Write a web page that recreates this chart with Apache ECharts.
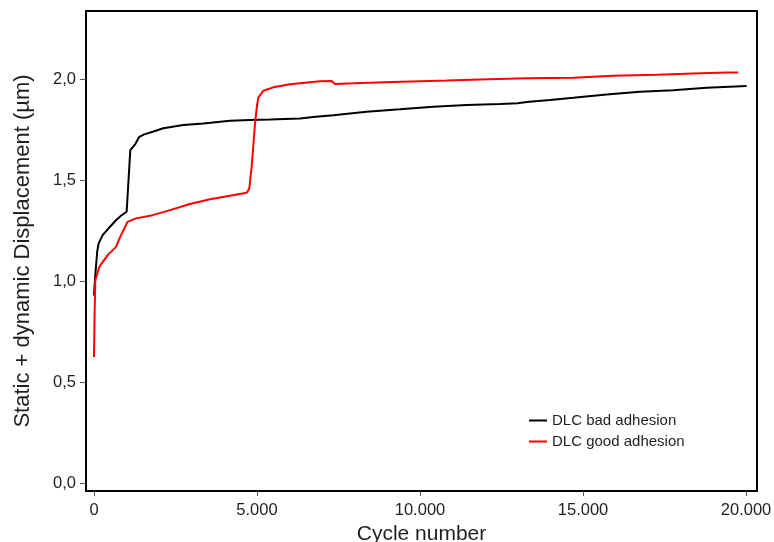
<!DOCTYPE html>
<html>
<head>
<meta charset="utf-8">
<script src="https://cdn.jsdelivr.net/npm/echarts@6/dist/echarts.min.js"></script>
<style>
html,body{margin:0;padding:0;background:#fff;}
#c{width:774px;height:542px;}
</style>
</head>
<body>
<div id="c"></div>
<script>
var seriesNames = ['DLC bad adhesion', 'DLC good adhesion'];
var xTicks = [0, 5000, 10000, 15000, 20000];
var yTicks = [0, 0.5, 1.0, 1.5, 2.0];

var badCycles = [0,40,100,144,266,470,675,828,1002,1063,1114,1267,1390,1543,1800,2126,2739,3353,4171,4785,5398,6318,6800,7340,8363,9385,10407,11430,12452,13000,13270,13985,14701,15724,16746,17768,18791,20018];
var badDisp   = [0.93,1.03,1.15,1.188,1.229,1.267,1.303,1.325,1.345,1.353,1.65,1.68,1.716,1.728,1.741,1.758,1.774,1.782,1.795,1.799,1.802,1.807,1.815,1.823,1.840,1.852,1.865,1.873,1.878,1.882,1.888,1.898,1.909,1.926,1.939,1.947,1.959,1.967];

var goodCycles = [0,20,41,163,419,675,828,1032,1288,1800,2331,2944,3558,4171,4683,4764,4836,4900,4938,5000,5040,5193,5500,6011,6625,6932,7290,7392,7953,9180,10816,11839,13270,14701,15928,17257,18381,19404,19760];
var goodDisp   = [0.626,0.85,1.006,1.072,1.13,1.171,1.229,1.295,1.312,1.328,1.353,1.383,1.407,1.424,1.439,1.46,1.567,1.70,1.78,1.87,1.91,1.944,1.961,1.976,1.986,1.991,1.992,1.978,1.981,1.988,1.995,2.0,2.006,2.009,2.018,2.023,2.03,2.035,2.034];

function zip(a, b){ return a.map(function(v,i){ return [v, b[i]]; }); }

var FONT = '"Liberation Sans", Arial, sans-serif';
var TXT = '#1f1f1f';

var chart = echarts.init(document.getElementById('c'), null, {renderer:'canvas'});
chart.setOption({
  animation:false,
  backgroundColor:'#fff',
  grid:{left:86, right:17, top:11, bottom:51, show:true, borderColor:'#000', borderWidth:2, backgroundColor:'transparent',
        containLabel:false, outerBoundsMode:'none'},
  legend:{
    left:524, top:408, orient:'vertical', itemWidth:18, itemHeight:2, itemGap:6,
    icon:'rect',
    textStyle:{fontFamily:FONT, fontSize:15, color:TXT, lineHeight:15},
    data:seriesNames
  },
  xAxis:{
    type:'value', min:-245, max:20337,
    axisLine:{show:false, onZero:false},
    splitLine:{show:false},
    axisTick:{show:true, inside:false, customValues:xTicks, length:5, lineStyle:{color:'#555', width:1}},
    axisLabel:{customValues:xTicks, margin:11, fontFamily:FONT, fontSize:16.5, color:TXT,
      formatter:function(v){ return String(Math.round(v)).replace(/\B(?=(\d{3})+(?!\d))/g,'.'); }},
    name:'Cycle number', nameLocation:'middle', nameGap:33,
    nameTextStyle:{fontFamily:FONT, fontSize:21, color:TXT}
  },
  yAxis:{
    type:'value', min:-0.038, max:2.339,
    axisLine:{show:false, onZero:false},
    splitLine:{show:false},
    axisTick:{show:true, inside:false, customValues:yTicks, length:6, lineStyle:{color:'#555', width:1}},
    axisLabel:{customValues:yTicks, margin:10, fontFamily:FONT, fontSize:16.5, color:TXT,
      formatter:function(v){ return v.toFixed(1).replace('.',','); }},
    name:'Static + dynamic Displacement (µm)', nameLocation:'middle', nameGap:52,
    nameTextStyle:{fontFamily:FONT, fontSize:22, color:TXT}
  },
  series:[
    {name:seriesNames[0], type:'line', data:zip(badCycles, badDisp), showSymbol:false, symbol:'none',
     lineStyle:{color:'#000', width:2}, itemStyle:{color:'#000'}},
    {name:seriesNames[1], type:'line', data:zip(goodCycles, goodDisp), showSymbol:false, symbol:'none',
     lineStyle:{color:'#ff0000', width:2}, itemStyle:{color:'#ff0000'}}
  ]
});
</script>
</body>
</html>
